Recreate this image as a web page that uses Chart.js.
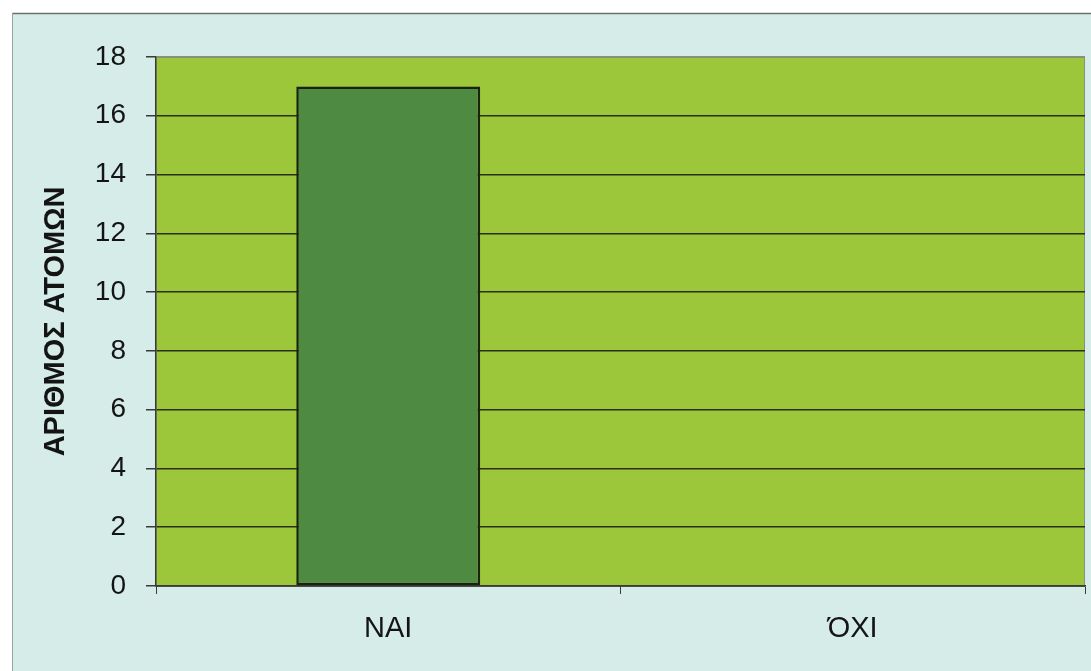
<!DOCTYPE html>
<html>
<head>
<meta charset="utf-8">
<script src="https://cdn.jsdelivr.net/npm/chart.js@4.4.1/dist/chart.umd.min.js"></script>
<style>
  html, body { margin: 0; padding: 0; background: #ffffff; }
  #wrap { width: 1091px; height: 671px; position: relative; }
</style>
</head>
<body>
<div id="wrap"><canvas id="c" width="1091" height="671"></canvas></div>
<script>
const categories = ["ΝΑΙ", "ΌΧΙ"];
const counts = [17, 0];
const yTitle = "ΑΡΙΘΜΟΣ ΑΤΟΜΩΝ";
const yMin = 0, yMax = 18, yStep = 2;

const backgroundPlugin = {
  id: 'bgs',
  beforeDraw(chart) {
    const ctx = chart.ctx;
    const {left, top, right, bottom} = chart.chartArea;
    ctx.save();
    ctx.fillStyle = '#ffffff';
    ctx.fillRect(0, 0, chart.width, chart.height);
    ctx.fillStyle = '#d6ece8';
    ctx.fillRect(12, 13, chart.width - 12, chart.height - 13);
    ctx.strokeStyle = '#6b6f6e';
    ctx.lineWidth = 1.5;
    ctx.beginPath();
    ctx.moveTo(12, 13.5);
    ctx.lineTo(chart.width, 13.5);
    ctx.stroke();
    ctx.strokeStyle = '#9aa3a1';
    ctx.lineWidth = 1;
    ctx.beginPath();
    ctx.moveTo(12.5, 13);
    ctx.lineTo(12.5, chart.height);
    ctx.stroke();
    ctx.fillStyle = '#9dc73b';
    ctx.fillRect(left, top, right - left, bottom - top);
    ctx.strokeStyle = '#8a8f7a';
    ctx.lineWidth = 1;
    ctx.strokeRect(left, top + 0.5, right - left - 0.5, bottom - top);
    ctx.restore();
  }
};

new Chart(document.getElementById('c'), {
  type: 'bar',
  data: {
    labels: categories,
    datasets: [{
      data: counts,
      backgroundColor: '#4f8a42',
      borderColor: '#18220f',
      borderWidth: 2.5,
      borderSkipped: false,
      categoryPercentage: 1.0,
      barPercentage: 0.396
    }]
  },
  options: {
    responsive: false,
    animation: false,
    devicePixelRatio: 1,
    layout: { padding: { left: 0, top: 57, right: 6, bottom: 0 } },
    plugins: { legend: { display: false }, tooltip: { enabled: false } },
    scales: {
      x: {
        afterFit(scale) { scale.height = 85; },
        grid: {
          display: true,
          drawOnChartArea: false,
          drawTicks: true,
          tickLength: 8,
          color: '#3a3a3a',
          offset: true
        },
        border: { display: true, color: '#3a3a3a', width: 1.5 },
        ticks: {
          color: '#141414',
          padding: 18,
          font: { family: '"Liberation Sans", Arial, sans-serif', size: 29 }
        }
      },
      y: {
        min: yMin, max: yMax,
        afterFit(scale) { scale.width = 156; },
        grid: {
          color: (c) => c.tick && c.tick.value === yMax ? '#8a8f7a' : '#2a2f1a',
          lineWidth: 1.5,
          tickLength: 10,
          tickColor: '#3a3a3a'
        },
        border: { display: true, color: '#3a3a3a', width: 1.5 },
        ticks: {
          stepSize: yStep,
          color: '#141414',
          padding: 20,
          font: { family: '"Liberation Sans", Arial, sans-serif', size: 28 }
        },
        title: {
          display: true,
          text: yTitle,
          color: '#141414',
          padding: { top: 39, bottom: 0 },
          font: { family: '"Liberation Sans", Arial, sans-serif', size: 29, weight: 'bold' }
        }
      }
    }
  },
  plugins: [backgroundPlugin]
});
</script>
</body>
</html>
